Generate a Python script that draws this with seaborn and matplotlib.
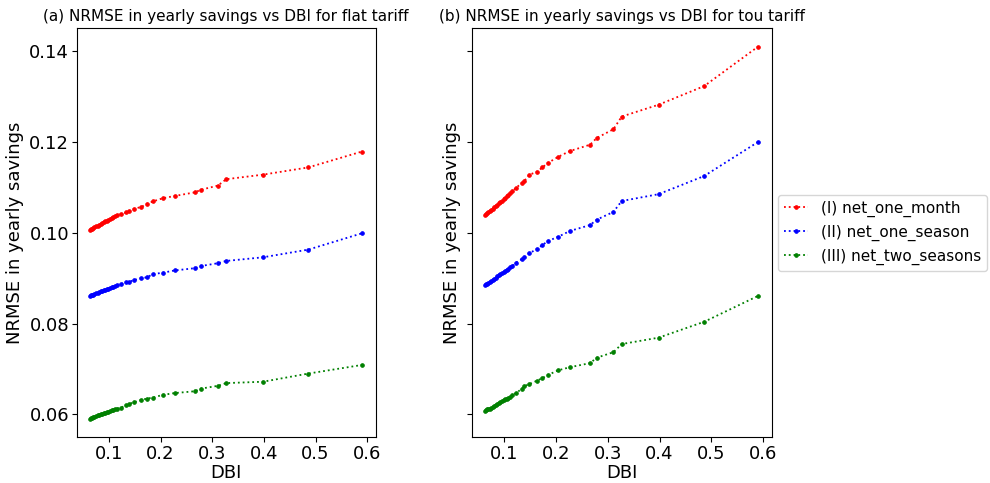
import matplotlib
matplotlib.use("Agg")
import matplotlib.pyplot as plt
import seaborn as sns
import pandas as pd

# DBI values (shared by every series)
dbi = [0.064, 0.066, 0.068, 0.070, 0.072, 0.075, 0.078, 0.081, 0.084, 0.087,
       0.090, 0.093, 0.096, 0.099, 0.102, 0.105, 0.108, 0.112, 0.116, 0.123,
       0.134, 0.139, 0.149, 0.163, 0.174, 0.185, 0.204, 0.227, 0.266, 0.279,
       0.311, 0.327, 0.398, 0.486, 0.590]

# (a) flat tariff
flat_one_month = [0.1006, 0.1008, 0.1009, 0.1011, 0.1012, 0.1014, 0.1016, 0.1018, 0.1020, 0.1022,
                  0.1024, 0.1026, 0.1027, 0.1029, 0.1031, 0.1033, 0.1035, 0.1037, 0.1039, 0.1041,
                  0.1045, 0.1048, 0.1053, 0.1057, 0.1064, 0.1069, 0.1076, 0.1081, 0.1089, 0.1095,
                  0.1104, 0.1118, 0.1128, 0.1144, 0.1179]
flat_one_season = [0.0861, 0.0862, 0.0863, 0.0864, 0.0865, 0.0867, 0.0868, 0.0869, 0.0871, 0.0872,
                   0.0873, 0.0875, 0.0876, 0.0877, 0.0878, 0.0880, 0.0881, 0.0883, 0.0884, 0.0887,
                   0.0891, 0.0892, 0.0896, 0.0900, 0.0902, 0.0909, 0.0912, 0.0917, 0.0922, 0.0927,
                   0.0933, 0.0938, 0.0946, 0.0963, 0.0999]
flat_two_seasons = [0.0591, 0.0592, 0.0593, 0.0594, 0.0595, 0.0596, 0.0598, 0.0599, 0.0600, 0.0601,
                    0.0603, 0.0604, 0.0605, 0.0606, 0.0607, 0.0609, 0.0610, 0.0611, 0.0613, 0.0615,
                    0.0620, 0.0623, 0.0627, 0.0632, 0.0635, 0.0637, 0.0643, 0.0647, 0.0651, 0.0657,
                    0.0663, 0.0669, 0.0672, 0.0690, 0.0709]

# (b) tou tariff
tou_one_month = [0.1039, 0.1041, 0.1043, 0.1045, 0.1047, 0.1050, 0.1053, 0.1056, 0.1059, 0.1062,
                 0.1065, 0.1068, 0.1071, 0.1074, 0.1077, 0.1080, 0.1083, 0.1087, 0.1091, 0.1099,
                 0.1109, 0.1114, 0.1128, 0.1134, 0.1144, 0.1154, 0.1167, 0.1180, 0.1194, 0.1209,
                 0.1228, 0.1256, 0.1282, 0.1323, 0.1410]
tou_one_season = [0.0885, 0.0887, 0.0888, 0.0890, 0.0891, 0.0894, 0.0896, 0.0899, 0.0901, 0.0904,
                  0.0906, 0.0909, 0.0911, 0.0914, 0.0916, 0.0919, 0.0921, 0.0924, 0.0927, 0.0934,
                  0.0942, 0.0946, 0.0955, 0.0964, 0.0973, 0.0982, 0.0991, 0.1004, 0.1017, 0.1029,
                  0.1046, 0.1070, 0.1085, 0.1125, 0.1200]
tou_two_seasons = [0.0608, 0.0609, 0.0611, 0.0612, 0.0613, 0.0615, 0.0617, 0.0619, 0.0621, 0.0623,
                   0.0625, 0.0627, 0.0629, 0.0631, 0.0633, 0.0635, 0.0637, 0.0639, 0.0642, 0.0647,
                   0.0656, 0.0662, 0.0667, 0.0674, 0.0680, 0.0687, 0.0697, 0.0704, 0.0713, 0.0725,
                   0.0737, 0.0755, 0.0769, 0.0804, 0.0861]

labels = ["(I) net_one_month", "(II) net_one_season", "(III) net_two_seasons"]
colors = ["red", "blue", "green"]

sns.set_style("ticks", {"text.color": "black", "axes.labelcolor": "black",
                        "xtick.color": "black", "ytick.color": "black",
                        "axes.edgecolor": "black"})
plt.rcParams["font.family"] = ["DejaVu Sans"]

fig = plt.figure(figsize=(9.9, 4.83), dpi=100)
ax1 = fig.add_axes([0.0775, 0.095, 0.302, 0.847])
ax2 = fig.add_axes([0.4765, 0.095, 0.303, 0.847], sharey=ax1)

panels = [
    (ax1, [flat_one_month, flat_one_season, flat_two_seasons],
     "(a) NRMSE in yearly savings vs DBI for flat tariff"),
    (ax2, [tou_one_month, tou_one_season, tou_two_seasons],
     "(b) NRMSE in yearly savings vs DBI for tou tariff"),
]

for ax, series, title in panels:
    for vals, lab, col in zip(series, labels, colors):
        df = pd.DataFrame({"DBI": dbi, "NRMSE": vals})
        sns.lineplot(data=df, x="DBI", y="NRMSE", ax=ax, sort=False,
                     color=col, label=lab, linestyle=":", linewidth=1.3,
                     marker=".", markersize=5.5, markeredgecolor=col,
                     markerfacecolor=col, markeredgewidth=0.5)
    ax.set_title(title, fontsize=11, pad=5)
    ax.set_xlabel("DBI", fontsize=13, labelpad=1)
    ax.set_ylabel("NRMSE in yearly savings", fontsize=13, labelpad=4)
    ax.tick_params(labelsize=13, pad=2)
    ax.set_xticks([0.1, 0.2, 0.3, 0.4, 0.5, 0.6])
    ax.get_legend().remove()

ax1.set_yticks([0.06, 0.08, 0.10, 0.12, 0.14])
ax1.set_yticklabels(["0.06", "0.08", "0.10", "0.12", "0.14"])
plt.setp(ax2.get_yticklabels(), visible=False)

handles, hl = ax2.get_legend_handles_labels()
ax2.legend(handles, hl, loc="center left", bbox_to_anchor=(0.995, 0.5),
           fontsize=11, frameon=True, handlelength=1.6)

fig.savefig("out.png", dpi=100)
